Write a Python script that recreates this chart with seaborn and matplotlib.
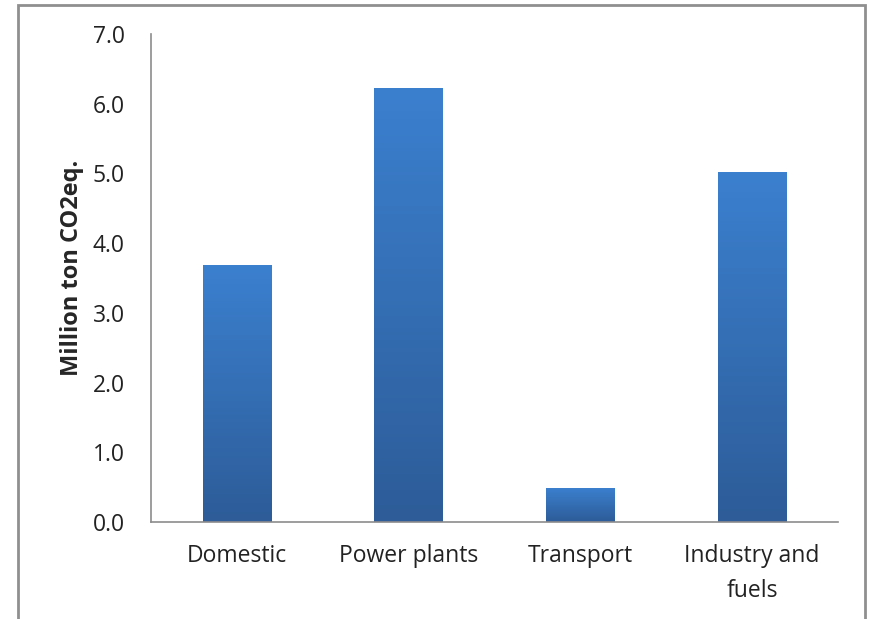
import numpy as np
import pandas as pd
import seaborn as sns
import matplotlib
matplotlib.use("Agg")
import matplotlib.pyplot as plt
from matplotlib.colors import LinearSegmentedColormap
from matplotlib.patches import Rectangle

categories = ["Domestic", "Power plants", "Transport", "Industry and\nfuels"]
emissions = [3.68, 6.23, 0.49, 5.02]
y_ticks = [0, 1, 2, 3, 4, 5, 6, 7]

df = pd.DataFrame({"sector": categories, "value": emissions})

sns.set_theme(style="white")
plt.rcParams['font.family'] = ['Open Sans', 'DejaVu Sans']

fig = plt.figure(figsize=(8.69, 6.19), dpi=100)
ax = fig.add_axes([151/869, 1-522/619, (838-151)/869, (522-34)/619])

sns.barplot(data=df, x="sector", y="value", color="#3b7dcb", width=0.4, ax=ax)

# vertical gradient on each bar, lighter at top
grad = LinearSegmentedColormap.from_list("g", ["#2d5c98", "#3b80cf"])
g = np.linspace(0, 1, 256).reshape(-1, 1)
for p in ax.patches:
    x0, y0 = p.get_x(), p.get_y()
    w, h = p.get_width(), p.get_height()
    p.set_facecolor("none")
    p.set_edgecolor("none")
    im = ax.imshow(g, cmap=grad, origin="lower", aspect="auto",
                   extent=[x0, x0 + w, y0, y0 + h], zorder=2)
    clip = Rectangle((x0, y0), w, h, transform=ax.transData)
    im.set_clip_path(clip)

ax.set_xlim(-0.5, 3.5)
ax.set_ylim(0, 7)
ax.set_yticks(y_ticks)
ax.set_yticklabels([f"{t:.1f}" for t in y_ticks])
ax.tick_params(axis="y", length=0, pad=19, labelsize=16.5, colors="#222222")
ax.tick_params(axis="x", length=0, pad=16, labelsize=16.5, colors="#222222")
for lbl in ax.get_xticklabels():
    lbl.set_linespacing(1.6)
ax.set_xlabel("")
ax.set_ylabel("Million ton CO2eq.", fontsize=17, fontweight="bold")
ax.yaxis.set_label_coords(-0.097, 0.52)

sns.despine(ax=ax)
for s in ["left", "bottom"]:
    ax.spines[s].set_color("#8c8c8c")
    ax.spines[s].set_linewidth(1.2)

# outer chart frame
frame = Rectangle((18/869, -0.05), (865-18)/869, 1.05 - 5/619,
                  transform=fig.transFigure, fill=False,
                  edgecolor="#8f8f8f", linewidth=2, clip_on=False)
fig.patches.append(frame)

plt.savefig("out.png", dpi=100)
